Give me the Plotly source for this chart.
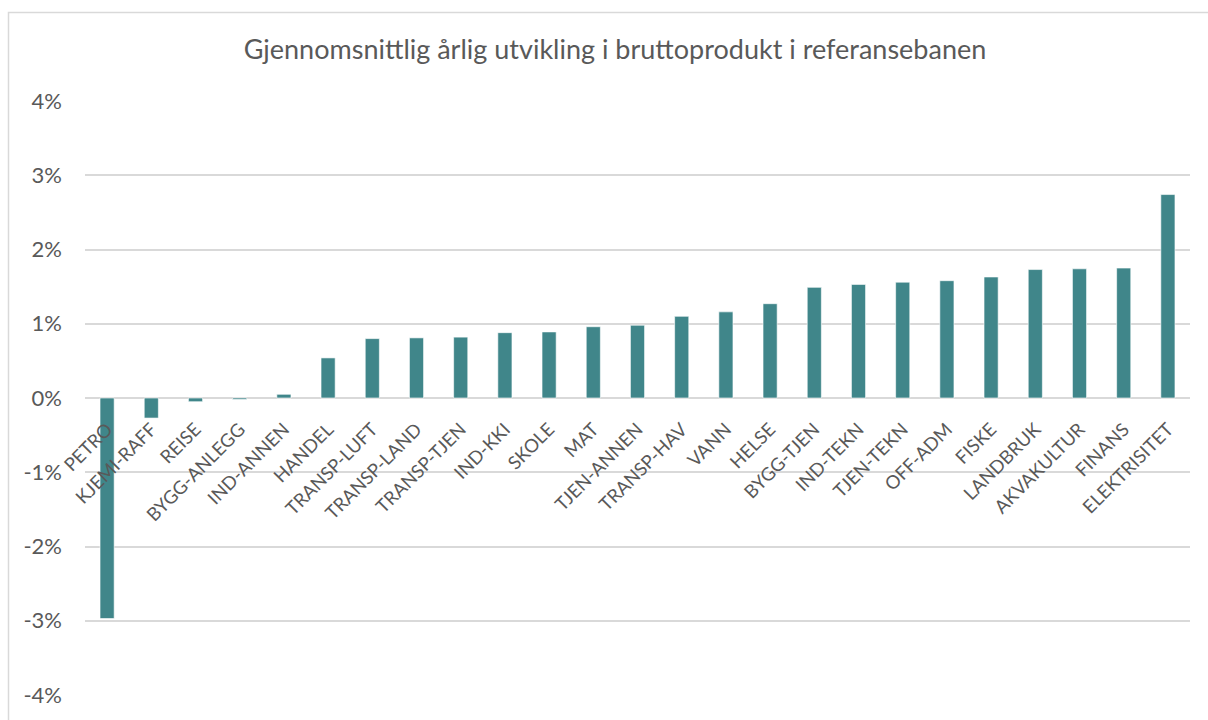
import plotly.graph_objects as go

categories = ["PETRO", "KJEMI-RAFF", "REISE", "BYGG-ANLEGG", "IND-ANNEN", "HANDEL",
              "TRANSP-LUFT", "TRANSP-LAND", "TRANSP-TJEN", "IND-KKI", "SKOLE", "MAT",
              "TJEN-ANNEN", "TRANSP-HAV", "VANN", "HELSE", "BYGG-TJEN", "IND-TEKN",
              "TJEN-TEKN", "OFF-ADM", "FISKE", "LANDBRUK", "AKVAKULTUR", "FINANS",
              "ELEKTRISITET"]
values = [-2.97, -0.27, -0.05, -0.02, 0.05, 0.54, 0.80, 0.81, 0.82, 0.88, 0.89, 0.96,
          0.98, 1.10, 1.16, 1.27, 1.49, 1.53, 1.56, 1.58, 1.63, 1.73, 1.74, 1.75, 2.74]
y_ticks = [-4, -3, -2, -1, 0, 1, 2, 3, 4]
y_tick_labels = [f"{v}%" for v in y_ticks]
title = "Gjennomsnittlig årlig utvikling i bruttoprodukt i referansebanen"

W, H = 1208, 720
ml, mr, mt, mb = 85, 18, 101, 22
pw, ph = W - ml - mr, H - mt - mb

def px_x(px):
    return (px - ml) / pw

def px_y(py):
    return (H - mb - py) / ph

fig = go.Figure()
fig.add_trace(go.Bar(
    x=categories, y=values,
    marker=dict(color="#40868A", line=dict(color="rgba(255,255,255,0.6)", width=1)),
    hoverinfo="x+y",
))

font_family = "Lato, 'Open Sans', sans-serif"
fig.update_layout(
    width=W, height=H,
    margin=dict(l=ml, r=mr, t=mt, b=mb),
    paper_bgcolor="white", plot_bgcolor="white",
    bargap=0.68,
    showlegend=False,
    title=dict(text=title, x=615 / W, xref="container", xanchor="center",
               y=1 - 50 / H, yref="container", yanchor="middle",
               font=dict(family=font_family, size=27, color="#595959")),
    xaxis=dict(
        type="category",
        anchor="free", position=0.5,
        showgrid=False, showline=False, zeroline=False,
        ticks="", tickangle=-45,
        ticklabelstandoff=16,
        tickfont=dict(family=font_family, size=18.5, color="#595959"),
    ),
    yaxis=dict(
        range=[-4, 4],
        tickvals=y_ticks, ticktext=y_tick_labels,
        showgrid=True, gridcolor="#D9D9D9", gridwidth=1.5,
        zeroline=False, showline=False, ticks="",
        ticklabelstandoff=22,
        tickfont=dict(family=font_family, size=22, color="#595959"),
    ),
    shapes=[dict(type="rect", xref="paper", yref="paper",
                 x0=px_x(8.5), x1=px_x(1240), y0=px_y(760), y1=px_y(12),
                 line=dict(color="#D9D9D9", width=1.5), fillcolor="rgba(0,0,0,0)",
                 layer="below")],
)

fig.write_html("out.html", config={"displayModeBar": False},
               post_script="document.body.style.margin='0';")
